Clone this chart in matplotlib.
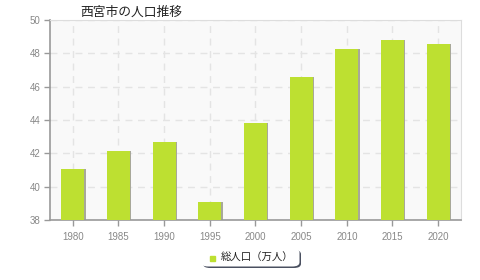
import matplotlib.pyplot as plt
from matplotlib.patches import FancyBboxPatch
import numpy as np

plt.rcParams['font.family'] = ['Noto Sans CJK JP', 'DejaVu Sans']

years = ['1980', '1985', '1990', '1995', '2000', '2005', '2010', '2015', '2020']
population = [41.06, 42.14, 42.70, 39.08, 43.82, 46.56, 48.26, 48.80, 48.58]

BAR = '#bde031'
GRID = '#e4e4e4'
AXIS = '#999999'
TICK = '#888888'

fig = plt.figure(figsize=(4.8, 2.8), dpi=100)
ax = fig.add_axes([50 / 480, 60 / 280, 411 / 480, 200 / 280])
ax.set_facecolor('#f9f9f9')

x = np.arange(len(years))
# thin shadow on the right side of each bar
ax.bar(x + 0.03, population, width=0.5, color='#a8a89a', zorder=2)
ax.bar(x, population, width=0.5, color=BAR, zorder=3)

ax.set_xlim(-0.5, len(years) - 0.5)
ax.set_ylim(38, 50)
ax.set_yticks(range(38, 51, 2))
ax.set_xticks(x)
ax.set_xticklabels(years)

ax.grid(True, color=GRID, linestyle=(0, (5, 4)), linewidth=1, zorder=0)
ax.set_axisbelow(True)

for side in ['top', 'right']:
    ax.spines[side].set_color('#dddddd')
for side in ['left', 'bottom']:
    ax.spines[side].set_color(AXIS)
    ax.spines[side].set_linewidth(1.2)

ax.tick_params(axis='both', colors=AXIS, labelcolor=TICK, labelsize=7,
               length=4, width=1)
ax.tick_params(axis='x', pad=5)
ax.tick_params(axis='y', pad=3)
for lab in ax.get_xticklabels() + ax.get_yticklabels():
    lab.set_family('Liberation Sans')

fig.text(80 / 480, 1 - 12 / 280, '西宮市の人口推移', fontsize=9.2,
         color='#222222', va='center', ha='left')

# legend box with shadow on bottom/right
shadow = FancyBboxPatch((203 / 480, 1 - 268 / 280), 98 / 480, 18 / 280,
                        boxstyle='round,pad=0,rounding_size=0.015',
                        transform=fig.transFigure, facecolor='#4a5060',
                        edgecolor='none')
box = FancyBboxPatch((201 / 480, 1 - 266.5 / 280), 98.5 / 480, 18 / 280,
                     boxstyle='round,pad=0,rounding_size=0.015',
                     transform=fig.transFigure, facecolor='white',
                     edgecolor='none')
fig.patches.append(shadow)
fig.patches.append(box)
fig.patches.append(plt.Rectangle((210 / 480, 1 - 260.5 / 280), 4.5 / 480, 4.5 / 280,
                                 transform=fig.transFigure, color=BAR))
fig.text(221 / 480, 1 - 258 / 280, '総人口（万人）', fontsize=7.5,
         color='#222222', va='center', ha='left')

fig.savefig('out.png', dpi=100)
